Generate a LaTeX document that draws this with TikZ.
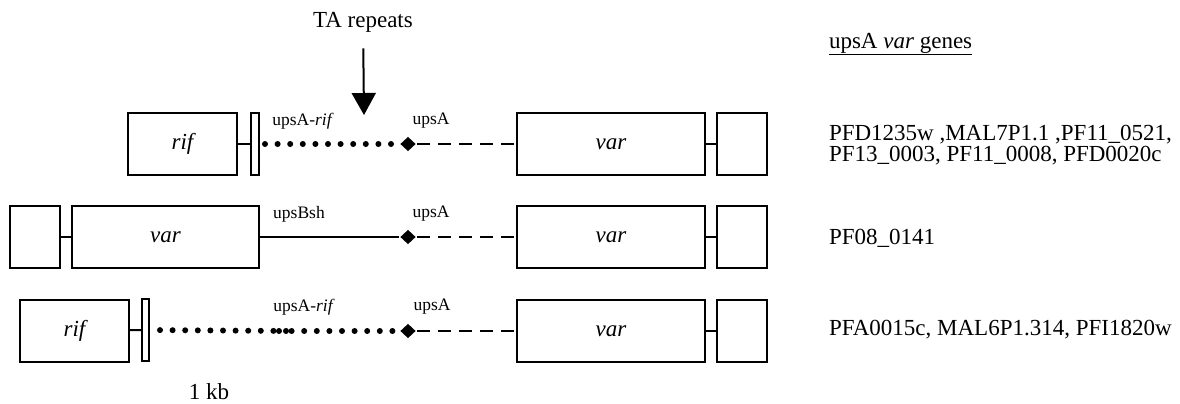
\documentclass[tikz,border=0pt]{standalone}
\usepackage{fontspec}
\setmainfont{Liberation Serif}
\usetikzlibrary{arrows.meta,shapes.geometric}

\begin{document}
\begin{tikzpicture}[x=1pt,y=-1pt,
					line width=2pt,
					gene box/.style={draw,rectangle,minimum height=62pt,inner sep=0pt,
					                 font=\fontsize{23}{23}\selectfont\itshape},
					bar box/.style={draw,rectangle,fill=white,minimum height=62pt,inner sep=0pt},
					ups node/.style={diamond,fill=black,inner sep=0pt,minimum width=16pt,minimum height=15pt},
					ups label/.style={font=\fontsize{17.5}{17.5}\selectfont},
					gene list/.style={anchor=west,align=left,inner sep=0pt,
					                  font=\fontsize{23}{21.5}\selectfont},
					dots line/.style={line width=6pt,line cap=round,dash pattern=on 0pt off 12.6pt},
					dash line/.style={line width=2pt,dash pattern=on 13pt off 8pt}]

  \useasboundingbox (0,0) rectangle (1180,404);

  % TA repeats arrow
  \node[font=\fontsize{23}{23}\selectfont] (ta) at (363,22) {TA repeats};
  \coordinate (tip) at (364,115);
  \draw[-{Triangle[width=24pt,length=22pt]},shorten <=12pt] (ta) -- (tip);

  % row 1
  \node[gene box,minimum width=109pt] (rif1) at (182.5,144) {rif};
  \node[bar box,minimum width=8pt] (bar1) at (255,144) {};
  \node[ups node] (d1) at (408,144) {};
  \node[gene box,minimum width=188pt] (var1) at (611,144) {var};
  \node[gene box,minimum width=50pt] (end1) at (742,144) {};
  \draw (rif1) -- (bar1);
  \draw[dots line,shorten <=5pt,shorten >=3pt] (bar1) -- (d1);
  \draw[dash line] (d1) -- (var1);
  \draw (var1) -- (end1);
  \node[ups label] (l1a) at (303,121) {upsA-\textit{rif}};
  \node[ups label] (l1b) at (431,121) {upsA};

  % row 2
  \node[gene box,minimum width=50pt] (start2) at (35,237) {};
  \node[gene box,minimum width=187pt] (varL2) at (165.5,237) {var};
  \node[ups node] (d2) at (408,237) {};
  \node[gene box,minimum width=188pt] (var2) at (611,237) {var};
  \node[gene box,minimum width=50pt] (end2) at (742,237) {};
  \draw (start2) -- (varL2);
  \draw (varL2) -- (d2);
  \draw[dash line] (d2) -- (var2);
  \draw (var2) -- (end2);
  \node[ups label] (l2a) at (299,214) {upsBsh};
  \node[ups label] (l2b) at (431,214) {upsA};

  % row 3
  \node[gene box,minimum width=109pt] (rif3) at (74.5,330.5) {rif};
  \node[bar box,minimum width=7pt] (bar3) at (145.5,330) {};
  \coordinate (m3a) at (290,331);
  \coordinate (m3b) at (279,331);
  \node[ups node] (d3) at (408,331) {};
  \node[gene box,minimum width=188pt] (var3) at (611,331) {var};
  \node[gene box,minimum width=50pt] (end3) at (742,331) {};
  \draw (rif3) -- (bar3);
  \draw[dots line,shorten <=10pt] (bar3) -- (m3a);
  \draw[dots line,shorten >=3pt] (m3b) -- (d3);
  \draw[dash line] (d3) -- (var3);
  \draw (var3) -- (end3);
  \node[ups label] (l3a) at (304,307) {upsA-\textit{rif}};
  \node[ups label] (l3b) at (432,307) {upsA};

  \node[font=\fontsize{23}{23}\selectfont] (scale) at (209,392) {1 kb};

  % gene lists
  \node[gene list] (head) at (828,44) {\underline{upsA \textit{var} genes}};
  \node[gene list] (list1) at (828,145) {PFD1235w ,MAL7P1.1 ,PF11\_0521,\\PF13\_0003, PF11\_0008, PFD0020c};
  \node[gene list] (list2) at (828,238) {PF08\_0141};
  \node[gene list] (list3) at (828,330) {PFA0015c, MAL6P1.314, PFI1820w};
\end{tikzpicture}
\end{document}
